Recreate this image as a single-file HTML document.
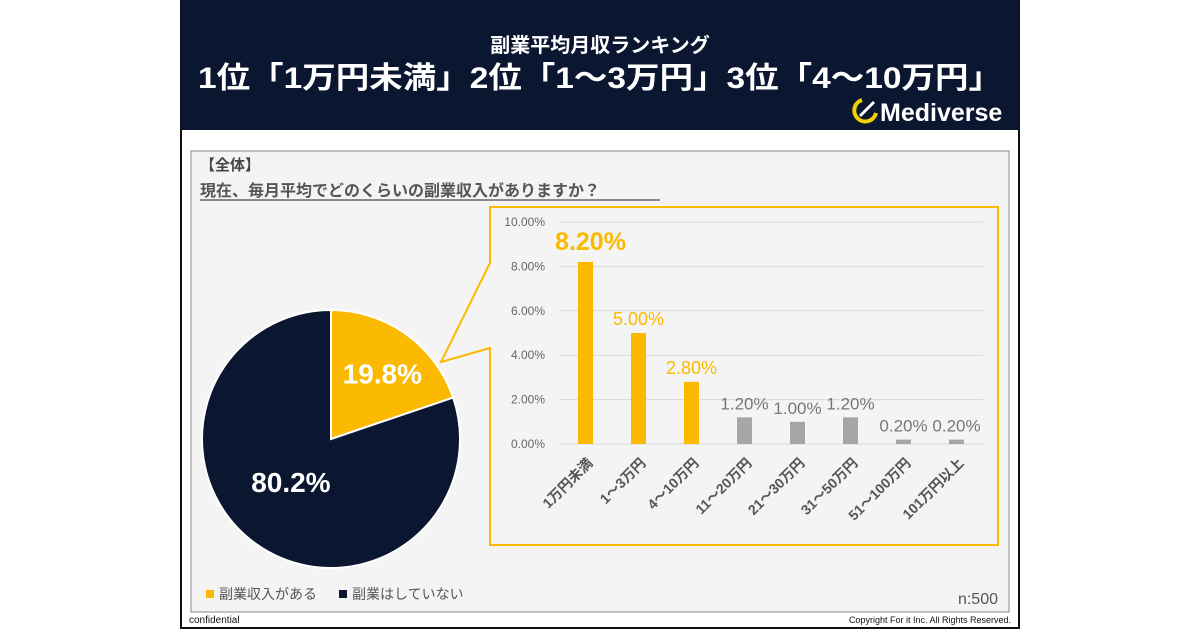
<!DOCTYPE html>
<html><head><meta charset="utf-8">
<style>
body{margin:0;width:1200px;height:630px;background:#fff;font-family:"Liberation Sans","Noto Sans CJK JP",sans-serif;position:relative;overflow:hidden}
</style></head><body>
<svg width="1200" height="630" style="position:absolute;left:0;top:0" font-family="Liberation Sans, Noto Sans CJK JP, sans-serif">
<rect x="181" y="1" width="838" height="627" fill="#fff" stroke="#111" stroke-width="2"/>
<rect x="181" y="0" width="838" height="130" fill="#0b1730"/>
<text x="600" y="52" text-anchor="middle" fill="#fff" font-size="20" font-weight="bold">副業平均月収ランキング</text>
<text x="600" y="88" text-anchor="middle" fill="#fff" font-size="30" font-weight="bold" textLength="804" lengthAdjust="spacingAndGlyphs">1位「1万円未満」2位「1～3万円」3位「4～10万円」</text>
<g>
<path d="M862 100 A11 11 0 1 0 876 113" fill="none" stroke="#f5d000" stroke-width="4"/>
<path d="M860 116 L874 102" stroke="#fff" stroke-width="3"/>
<text x="880" y="121" fill="#fff" font-size="25" font-weight="bold">Mediverse</text>
</g>
<rect x="191" y="151" width="818" height="461" fill="#f4f4f4" stroke="#888" stroke-width="1"/>
<text x="200" y="170" fill="#444" font-size="15" font-weight="bold">【全体】</text>
<text x="200" y="196" fill="#555" font-size="16" font-weight="bold">現在、毎月平均でどのくらいの副業収入がありますか？</text>
<line x1="200" y1="200" x2="660" y2="200" stroke="#666" stroke-width="1.5"/>
<g id="pie"></g>
<path d="M490 263 L490 207 L998 207 L998 545 L490 545 L490 348 L441 362 Z" fill="#f4f4f4" stroke="#fbb900" stroke-width="2"/>
<g id="bars"></g>
<g font-size="14" fill="#555">
<rect x="206" y="590" width="8" height="8" fill="#fbb900"/><text x="219" y="599">副業収入がある</text>
<rect x="339" y="590" width="8" height="8" fill="#0b1730"/><text x="352" y="599">副業はしていない</text>
</g>
<text x="998" y="604" text-anchor="end" fill="#555" font-size="16">n:500</text>
<text x="189" y="623" fill="#111" font-size="10">confidential</text>
<text x="1011" y="623" text-anchor="end" fill="#111" font-size="9">Copyright For it Inc. All Rights Reserved.</text>
</svg>
<script>
const pieLabels=["副業収入がある","副業はしていない"];
const pieValues=[19.8,80.2];
const pieColors=["#fbb900","#0b1730"];
const categories=["1万円未満","1～3万円","4～10万円","11～20万円","21～30万円","31～50万円","51～100万円","101万円以上"];
const barValues=[8.2,5.0,2.8,1.2,1.0,1.2,0.2,0.2];
const yTicks=[0,2,4,6,8,10];
const NS="http://www.w3.org/2000/svg";
function mk(t,a,p){const e=document.createElementNS(NS,t);for(const k in a)e.setAttribute(k,a[k]);p.appendChild(e);return e;}
const pie=document.getElementById('pie');const cx=331,cy=439,r=129;
let tot=pieValues.reduce((a,b)=>a+b,0),ang=-Math.PI/2;
pieValues.forEach((v,i)=>{const a2=ang+v/tot*2*Math.PI;const large=(a2-ang)>Math.PI?1:0;
const p=mk('path',{d:`M${cx} ${cy} L${cx+r*Math.cos(ang)} ${cy+r*Math.sin(ang)} A${r} ${r} 0 ${large} 1 ${cx+r*Math.cos(a2)} ${cy+r*Math.sin(a2)} Z`,fill:pieColors[i],stroke:'#fff','stroke-width':2},pie);


const mid=(ang+a2)/2,lr=i==0?r*0.55:r*0.6;
const t=mk('text',{x:cx+lr*Math.cos(mid)+(i==0?10:5),y:cy+lr*Math.sin(mid)+(i==0?2:-10),'text-anchor':'middle','font-size':28,'font-weight':'bold',fill:'#fff'},pie);
t.textContent=v.toFixed(1)+'%';


ang=a2;});
const g=document.getElementById('bars');const x0=559,x1=983,y0=444,yTop=222,ymax=10;
const ys=v=>y0-(v/ymax)*(y0-yTop);const bw=(x1-x0)/categories.length;
yTicks.forEach(t=>{const l=mk('line',{x1:x0,x2:x1,y1:ys(t),y2:ys(t),stroke:'#d9d9d9'},g);


const tx=mk('text',{x:545,y:ys(t)+4,'text-anchor':'end','font-size':12,fill:'#666'},g);tx.textContent=t.toFixed(2)+'%';

});
categories.forEach((c,i)=>{const cxb=x0+bw*(i+0.5),v=barValues[i],top3=i<3;
const b=mk('rect',{x:cxb-7.5,y:ys(v),width:15,height:y0-ys(v),fill:top3?'#fbb900':'#a6a6a6'},g);


const lt=mk('text',{x:cxb+(i==0?5:0),y:ys(v)-(i==0?12:8),'text-anchor':'middle','font-size':i==0?25:(top3?18:17),'font-weight':i==0?'bold':'normal',fill:top3?'#fbb900':'#777'},g);
lt.textContent=v.toFixed(2)+'%';


const cl=mk('text',{x:cxb+8,y:y0+20,'text-anchor':'end','font-size':14,'font-weight':'bold',fill:'#555',transform:`rotate(-45 ${cxb+8} ${y0+20})`},g);
cl.textContent=c;

});
</script>
</body></html>
